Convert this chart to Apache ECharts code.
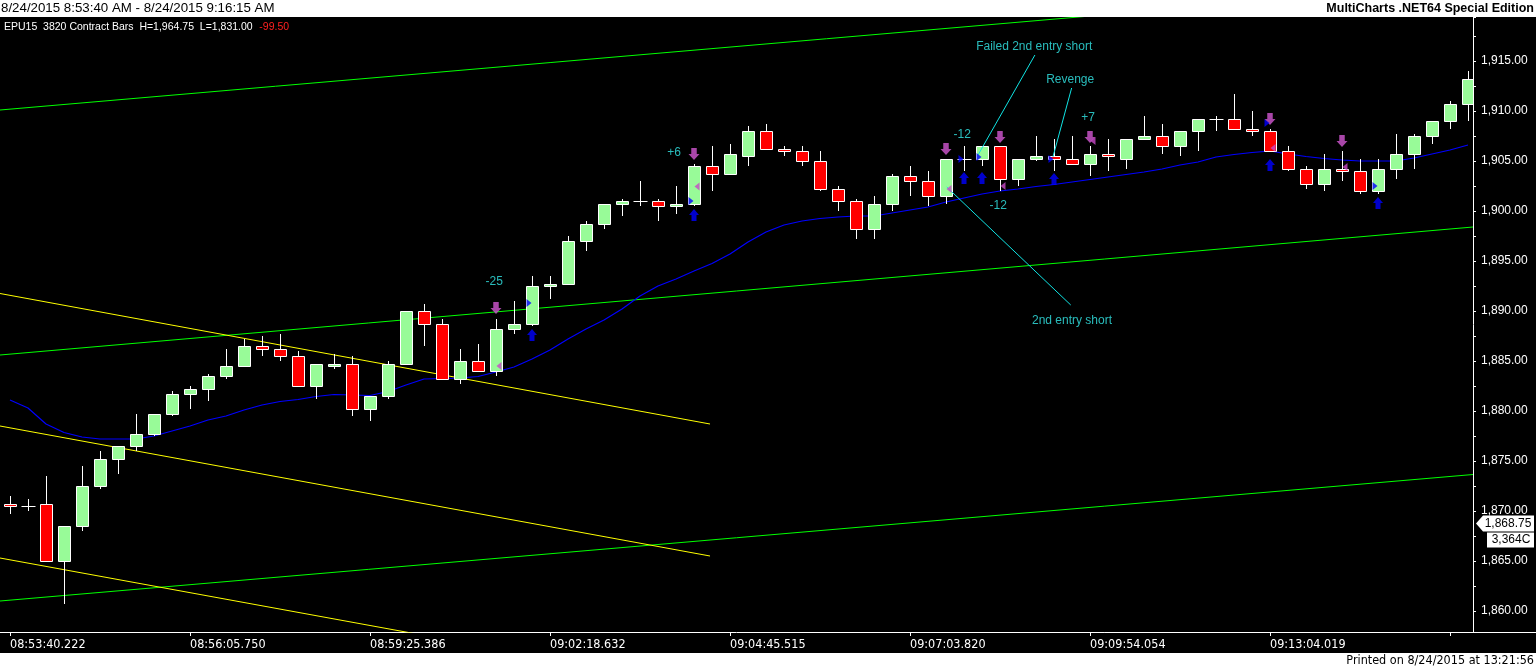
<!DOCTYPE html>
<html><head><meta charset="utf-8">
<script src="https://cdn.jsdelivr.net/npm/echarts/dist/echarts.min.js"></script>
<style>html,body{margin:0;padding:0;background:#000;overflow:hidden}#main{width:1536px;height:668px}</style>
</head><body><div id="main"></div>
<script>
// ---- data ----
const timeLabels = ['08:53:40.222','08:56:05.750','08:59:25.386','09:02:18.632','09:04:45.515','09:07:03.820','09:09:54.054','09:13:04.019'];
const opens = [1870.75,1870.5,1870.75,1865,1868.5,1872.5,1875.25,1876.5,1877.75,1879.75,
 1881.75,1882.25,1883.5,1884.5,1886.5,1886.25,1885.5,1882.5,1884.5,1884.75,
 1880.25,1881.5,1884.75,1890,1888.75,1883.25,1885,1884,1888.25,1888.75,
 1892.5,1892.75,1897,1898.75,1900.75,1901,1901,1900.5,1900.75,1904.5,
 1903.75,1905.5,1908,1906.25,1906,1905,1902.25,1901,1898.25,1900.75,
 1903.5,1903,1901.5,1905.25,1905.25,1906.5,1903.25,1905.25,1905.5,1905.25,
 1904.75,1905.75,1905.25,1907.25,1907.5,1906.5,1908,1909.25,1909.25,1908.25,
 1908,1906,1904.25,1902.75,1904.25,1904,1902,1904.25,1905.75,1907.5,
 1909,1910.75];
const highs = [1871.5,1871.25,1873.5,1868.5,1874.5,1876,1876.5,1879.75,1879.75,1882,
 1882.5,1883.75,1886.25,1887.25,1887.5,1887.75,1886,1884.75,1885.75,1885.5,
 1881.5,1885,1890,1890.75,1889.25,1886.25,1886.75,1889.25,1891,1893.5,
 1893.5,1897.5,1899,1900.75,1901.25,1903,1901.25,1902.5,1904.75,1906.5,
 1906.75,1908.5,1908.75,1906.5,1906.5,1906,1902.5,1901.25,1901.5,1903.75,
 1904.5,1904,1905.25,1906.5,1906.5,1906.5,1905.25,1907.5,1907.25,1907.5,
 1906.5,1907.25,1907.25,1909.5,1908.75,1908,1909.25,1909.5,1911.75,1910,
 1908.25,1906.5,1904.5,1905.75,1906,1905.25,1905.25,1907.75,1907.75,1909,
 1911,1914];
const lows = [1869.75,1870,1865,1860.75,1868,1872.25,1873.75,1876,1877.5,1879.5,
 1880.25,1881,1883.25,1884.5,1885.5,1885,1882.5,1881.25,1884.25,1879.5,
 1879,1881.25,1884.75,1886.5,1883.25,1882.75,1884,1883.5,1887.75,1888.5,
 1891.25,1892.75,1896,1898.25,1899.5,1900.5,1899,1899.75,1900.5,1902,
 1903.75,1904.5,1906.25,1905.5,1904.5,1902,1900,1897.25,1897.25,1900,
 1901.5,1900.5,1900.75,1904,1904.5,1902,1902.5,1905,1904,1904.75,
 1903.5,1904,1904.25,1907.25,1905.75,1905.5,1906,1908,1908.25,1907.5,
 1906,1904,1902.25,1902,1903,1901.75,1901.75,1903.25,1904.25,1906.75,
 1908.25,1909];
const closes = [1870.5,1870.5,1865,1868.5,1872.5,1875.25,1876.5,1877.75,1879.75,1881.75,
 1882.25,1883.5,1884.5,1886.5,1886.25,1885.5,1882.5,1884.75,1884.75,1880.25,
 1881.5,1884.75,1890,1888.75,1883.25,1885,1884,1888.25,1888.75,1892.5,
 1892.75,1897,1898.75,1900.75,1901,1901,1900.5,1900.75,1904.5,1903.75,
 1905.75,1908,1906.25,1906,1905,1902.25,1901,1898.25,1900.75,1903.5,
 1903,1901.5,1905.25,1905.25,1906.5,1903.25,1905.25,1905.5,1905.25,1904.75,
 1905.75,1905.5,1907.25,1907.5,1906.5,1908,1909.25,1909.25,1908.25,1908,
 1906,1904.25,1902.75,1904.25,1904,1902,1904.25,1905.75,1907.5,1909,
 1910.75,1913.25];
const ma = [1881.1,1880.3,1878.7,1877.85,1877.4,1877.2,1877.2,1877.2,1877.5,1878.0,
 1878.5,1879.1,1879.5,1880.1,1880.6,1880.95,1881.15,1881.45,1881.65,1881.6,
 1881.55,1881.95,1882.6,1883.2,1883.25,1883.3,1883.45,1883.9,1884.4,1885.2,
 1886.1,1887.2,1888.2,1889.1,1890.2,1891.5,1892.5,1893.2,1894.0,1894.75,
 1895.7,1896.9,1897.9,1898.6,1899.0,1899.25,1899.4,1899.5,1899.5,1899.8,
 1900.1,1900.4,1900.9,1901.3,1901.7,1902.0,1902.2,1902.45,1902.65,1902.9,
 1903.15,1903.4,1903.65,1903.9,1904.2,1904.6,1904.9,1905.4,1905.65,1905.85,
 1906.0,1905.7,1905.45,1905.25,1905.1,1905.0,1905.0,1905.0,1905.3,1905.7,
 1906.1,1906.6];

// signals
const shortBars = [27,38,52,55,60,70,74];
const shortArrowPx = [1890.3,1905.7,1906.2,1907.4,1907.4,1909.2,1907.0];
const shortExitPx = [1884.5,1902.45,1902.2,1902.5,1907.0,1906.3,1904.4];
const longBars = [29,38,53,54,58,70,76];
const longArrowPx = [1887.6,1899.6,1903.3,1903.3,1903.2,1904.6,1900.8];
const longEntryPx = [1890.8,1901.0,1905.2,1905.4,1905.2,1908.8,1902.5];
const pnlTexts = ['-25','+6','-12','-12','+7'];
const pnlBars = [26.9,36.9,52.9,54.9,59.9];
const pnlPx = [1892.9,1905.8,1907.6,1900.5,1909.3];

// annotations
const noteTexts = ['Failed 2nd entry short','Revenge','2nd entry short'];
const noteBars = [56.9,58.9,59.0];
const notePx = [1916.45,1913.1,1889.0];
const noteLineBars = [[56.94,53.78],[58.98,57.94],[58.93,52.04]];
const noteLinePx = [[1915.6,1905.6],[1912.3,1905.4],[1890.6,1902.4]];

// trend lines (bar units / price)
const xLeft = -10/18, xRight = -10/18 + 1473/18;
const greenPx = [[1910.1,1922.8],[1885.6,1898.4],[1861.0,1873.65]];
const yellowEndBar = 38.89;
const yellowPx = [[1891.75,1878.7],[1878.5,1865.5],[1865.3,1852.35]];

const lastPrice = 1868.75;
const lastVolume = '3,364C';

// ---- chart ----
const chart = echarts.init(document.getElementById('main'), null, {renderer:'canvas'});
const candleData = opens.map((o,i)=>[i,o,highs[i],lows[i],closes[i]]);

function renderCandle(params, api){
  const i=api.value(0), o=api.value(1), h=api.value(2), l=api.value(3), c=api.value(4);
  const pH=api.coord([i,h]), pL=api.coord([i,l]), pO=api.coord([i,o]), pC=api.coord([i,c]);
  const cx=Math.round(pH[0])+0.5;
  const ch=[{type:'line',shape:{x1:cx,y1:Math.round(pH[1]),x2:cx,y2:Math.round(pL[1])},style:{stroke:'#fff',lineWidth:1}}];
  if(o===c){
    const y=Math.round(pO[1])+0.5;
    ch.push({type:'line',shape:{x1:cx-7,y1:y,x2:cx+7,y2:y},style:{stroke:'#fff',lineWidth:1}});
  } else {
    const top=Math.round(Math.min(pO[1],pC[1]))+0.5, bot=Math.round(Math.max(pO[1],pC[1]))+0.5;
    ch.push({type:'rect',shape:{x:cx-6,y:top,width:12,height:Math.max(bot-top,1)},style:{fill:c>o?'#98fb98':'#ff0000',stroke:'#fff',lineWidth:1}});
  }
  return {type:'group',children:ch};
}

const cyan = '#33eaea';
const series = [];
greenPx.forEach((p,k)=>series.push({type:'line',data:[[xLeft,p[0]],[xRight,p[1]]],symbol:'none',lineStyle:{color:'#00ff00',width:1},z:1,silent:true,animation:false}));
yellowPx.forEach((p,k)=>series.push({type:'line',data:[[xLeft,p[0]],[yellowEndBar,p[1]]],symbol:'none',lineStyle:{color:'#ffff00',width:1},z:1,silent:true,animation:false}));
series.push({type:'line',data:ma.map((v,i)=>[i,v]),symbol:'none',lineStyle:{color:'#0000ff',width:1.2},z:2,animation:false});
series.push({type:'custom',renderItem:renderCandle,data:candleData,encode:{x:0,y:[1,2,3,4]},z:3,clip:true,animation:false});
noteLineBars.forEach((b,k)=>series.push({type:'line',data:[[b[0],noteLinePx[k][0]],[b[1],noteLinePx[k][1]]],symbol:'none',lineStyle:{color:'#10e4e4',width:1},z:4,animation:false}));
series.push({type:'scatter',data:shortBars.map((b,k)=>[b,shortArrowPx[k]]),symbol:'path://M2.5,0 L7.5,0 L7.5,6 L10,6 L5,12 L0,6 L2.5,6 Z',symbolSize:[11,12],itemStyle:{color:'#d257d2'},z:5,animation:false});
series.push({type:'scatter',data:longBars.map((b,k)=>[b,longArrowPx[k]]),symbol:'path://M5,0 L10,6 L7.5,6 L7.5,12 L2.5,12 L2.5,6 L0,6 Z',symbolSize:[10,12],itemStyle:{color:'#0000ff'},z:5,animation:false});
series.push({type:'scatter',data:longBars.map((b,k)=>[b,longEntryPx[k]]),symbol:'path://M0,0 L5,4 L0,8 Z',symbolSize:[5,8],symbolOffset:[-3,0],itemStyle:{color:'#0000ff'},z:6,animation:false});
series.push({type:'scatter',data:shortBars.map((b,k)=>[b,shortExitPx[k]]),symbol:'path://M5,0 L0,4 L5,8 Z',symbolSize:[5,8],symbolOffset:[3,0],itemStyle:{color:'#c848c8'},z:6,animation:false});
series.push({type:'scatter',data:pnlTexts.map((t,k)=>({value:[pnlBars[k],pnlPx[k]],name:t})),symbolSize:1,itemStyle:{color:'rgba(0,0,0,0)'},
  label:{show:true,position:'inside',formatter:p=>p.name,color:cyan,fontSize:12,fontFamily:'Liberation Sans, Arial, sans-serif'},z:7,animation:false});
series.push({type:'scatter',data:noteTexts.map((t,k)=>({value:[noteBars[k],notePx[k]],name:t})),symbolSize:1,itemStyle:{color:'rgba(0,0,0,0)'},
  label:{show:true,position:'inside',formatter:p=>p.name,color:cyan,fontSize:12,fontFamily:'Liberation Sans, Arial, sans-serif'},z:7,animation:false});

function isMult(v,m){return Math.abs(v/m-Math.round(v/m))<1e-6;}

chart.setOption({
  backgroundColor:'#000',
  animation:false,
  grid:{left:0,right:63,top:17,bottom:36,outerBoundsMode:'none',containLabel:false},
  xAxis:{type:'value',min:xLeft,max:xRight,splitNumber:8,
    axisLine:{show:true,onZero:false,lineStyle:{color:'#fff',width:1}},
    axisTick:{show:true,length:4,lineStyle:{color:'#fff'}},
    splitLine:{show:false},
    axisLabel:{show:true,align:'left',verticalAlign:'top',margin:6,color:'#fff',fontSize:12.5,
      fontFamily:'DejaVu Sans Condensed, Liberation Sans Narrow, sans-serif',
      showMinLabel:false,showMaxLabel:false,
      formatter:v=>{if(!isMult(v,10))return '';const k=Math.round(v/10);return (k>=0&&k<timeLabels.length)?timeLabels[k]:'';}}},
  yAxis:{type:'value',position:'right',min:1857.9,max:1919.4,splitNumber:12,scale:true,
    axisLine:{show:true,onZero:false,lineStyle:{color:'#fff',width:1}},
    axisTick:{show:true,length:3,lineStyle:{color:'#fff'}},
    minorTick:{show:true,splitNumber:2,length:3,lineStyle:{color:'#fff'}},
    splitLine:{show:false},
    axisLabel:{show:true,margin:8,color:'#fff',fontSize:12,fontFamily:'Liberation Sans, Arial, sans-serif',
      showMinLabel:false,showMaxLabel:false,
      formatter:v=>isMult(v,5)?v.toLocaleString('en-US',{minimumFractionDigits:2,maximumFractionDigits:2}):''}},
  series:series,
  graphic:[
    {type:'rect',id:'hdr',shape:{x:0,y:0,width:1536,height:17},style:{fill:'#fff'},z:100},
    {type:'text',id:'hdrL',x:1,y:8.5,style:{text:'8/24/2015 8:53:40 AM - 8/24/2015 9:16:15 AM',fill:'#000',font:'13.3px "Liberation Sans", Arial, sans-serif',verticalAlign:'middle',align:'left'},z:101},
    {type:'text',id:'hdrR',x:1534,y:8.5,style:{text:'MultiCharts .NET64 Special Edition',fill:'#000',font:'bold 12.5px "Liberation Sans", Arial, sans-serif',verticalAlign:'middle',align:'right'},z:101},
    {type:'text',id:'sym',x:4,y:27,style:{text:'{a|EPU15  3820 Contract Bars  H=1,964.75  L=1,831.00}  {b|-99.50}',
      rich:{a:{fill:'#fff',font:'10.5px "Liberation Sans", Arial, sans-serif'},b:{fill:'#ff2020',font:'10.5px "Liberation Sans", Arial, sans-serif'}},verticalAlign:'middle',align:'left'},z:101},
    {type:'rect',id:'ftr',shape:{x:0,y:653,width:1536,height:15},style:{fill:'#fff'},z:100},
    {type:'text',id:'ftrT',x:1534,y:660.5,style:{text:'Printed on 8/24/2015 at 13:21:56',fill:'#000',font:'12.5px "DejaVu Sans Condensed", "Liberation Sans Narrow", sans-serif',verticalAlign:'middle',align:'right'},z:101},
    {type:'line',id:'xext',shape:{x1:1473,y1:632.5,x2:1536,y2:632.5},style:{stroke:'#fff',lineWidth:1},z:100}
  ]
});

const py = chart.convertToPixel({yAxisIndex:0}, lastPrice);
const ax = chart.convertToPixel({xAxisIndex:0}, xRight);
chart.setOption({graphic:[
  {type:'polygon',id:'pl',shape:{points:[[ax+3,py],[ax+10,py-8],[1534,py-8],[1534,py+8],[ax+10,py+8]]},style:{fill:'#fff'},z:102},
  {type:'text',id:'plT',x:1508,y:py,style:{text:lastPrice.toLocaleString('en-US',{minimumFractionDigits:2}),fill:'#000',font:'12px "Liberation Sans", Arial, sans-serif',align:'center',verticalAlign:'middle'},z:103},
  {type:'rect',id:'vb',shape:{x:ax+14,y:py+9,width:1534-(ax+14),height:15},style:{fill:'#fff'},z:102},
  {type:'text',id:'vbT',x:1511,y:py+16.5,style:{text:lastVolume,fill:'#000',font:'12px "Liberation Sans", Arial, sans-serif',align:'center',verticalAlign:'middle'},z:103}
]});
</script></body></html>
